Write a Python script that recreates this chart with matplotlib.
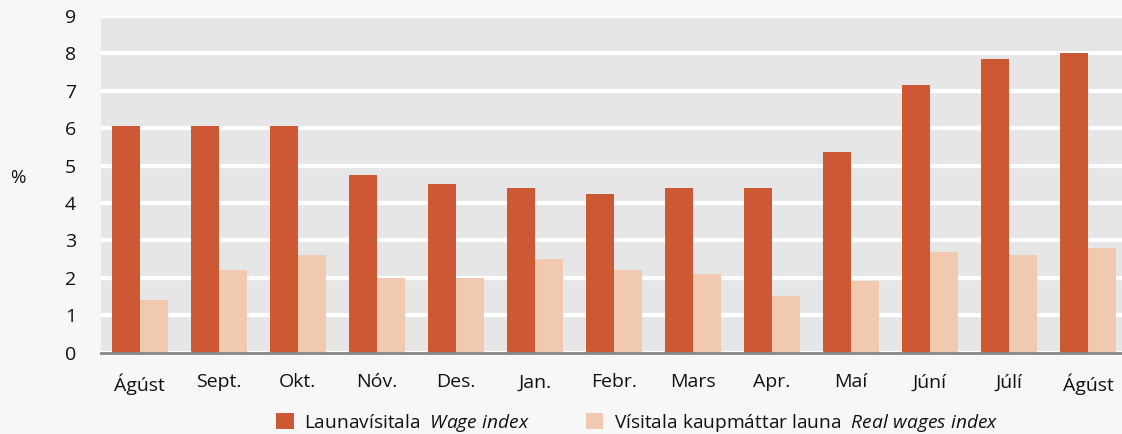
import matplotlib
matplotlib.use("Agg")
import matplotlib.pyplot as plt
import numpy as np

months = ["Ágúst", "Sept.", "Okt.", "Nóv.", "Des.", "Jan.", "Febr.", "Mars",
          "Apr.", "Maí", "Júní", "Júlí", "Ágúst"]
wage_index = [6.05, 6.05, 6.05, 4.75, 4.5, 4.4, 4.25, 4.4, 4.4, 5.35, 7.15, 7.85, 8.0]
real_wages_index = [1.4, 2.2, 2.6, 2.0, 2.0, 2.5, 2.2, 2.1, 1.5, 1.9, 2.7, 2.6, 2.8]
yticks = list(range(0, 10))

FONT = "Open Sans"
plt.rcParams['font.family'] = [FONT, 'DejaVu Sans']
plt.rcParams['mathtext.fontset'] = 'custom'
plt.rcParams['mathtext.rm'] = FONT
plt.rcParams['mathtext.it'] = FONT + ':italic'

fig = plt.figure(figsize=(11.22, 4.34), dpi=100, facecolor='#f7f7f7')
ax = fig.add_axes([101/1122, 81.5/434, 1 - 101/1122, (352.5-16)/434])
ax.set_facecolor('#e6e6e6')

x = np.arange(len(months))
w = 0.354
ax.bar(x - w/2, wage_index, width=w, color='#cc5933', zorder=3,
       label=r'Launavísitala  $\mathit{Wage\ index}$')
ax.bar(x + w/2, real_wages_index, width=w, color='#f0c9ae', zorder=3,
       label=r'Vísitala kaupmáttar launa  $\mathit{Real\ wages\ index}$')

ax.set_ylim(0, 9)
ax.set_xlim(-0.49, 12.43)
ax.set_yticks(yticks)
ax.set_xticks(x)
ax.set_xticklabels(months)
ax.grid(axis='y', color='white', linewidth=3, zorder=1)
ax.set_axisbelow(True)
for s in ['top', 'right', 'left']:
    ax.spines[s].set_visible(False)
ax.spines['bottom'].set_color('#888888')
ax.spines['bottom'].set_linewidth(2)
ax.spines['bottom'].set_zorder(4)
ax.tick_params(axis='y', length=0, pad=18, labelsize=14, labelcolor='#111111')
ax.tick_params(axis='x', length=0, pad=15, labelsize=14, labelcolor='#111111')

fig.text(18/1122, 1 - 178/434, '%', fontsize=13.5, ha='center', va='center', color='#111111')

leg = fig.legend(loc='center', bbox_to_anchor=(0.568, 1 - 423/434), ncol=2,
                 frameon=False, fontsize=13.8, handlelength=0.9, handleheight=0.9,
                 handletextpad=0.55, columnspacing=2.9, borderaxespad=0)
for t in leg.get_texts():
    t.set_color('#111111')

fig.savefig('out.png', dpi=100, facecolor=fig.get_facecolor())
